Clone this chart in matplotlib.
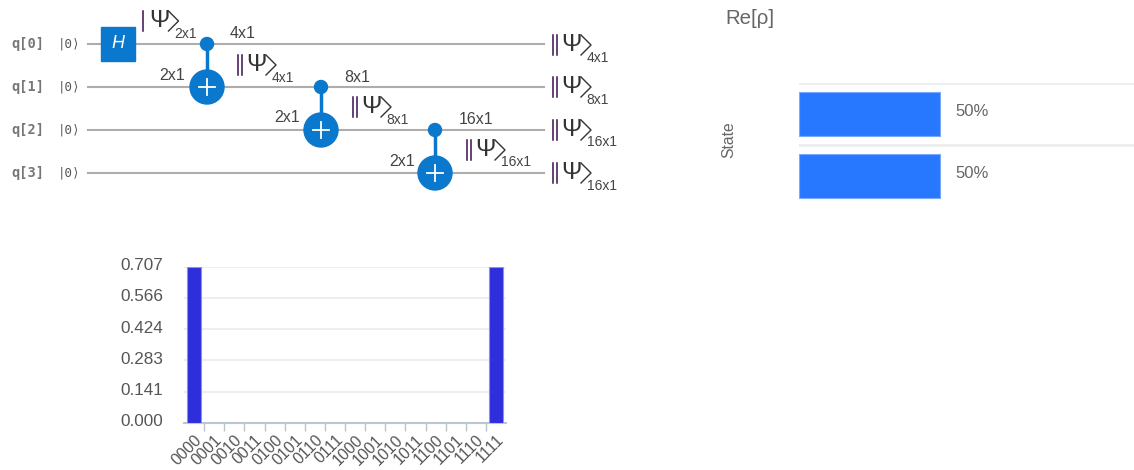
import matplotlib
matplotlib.use("Agg")
import matplotlib.pyplot as plt
from matplotlib.patches import Circle, Rectangle
from matplotlib.transforms import ScaledTranslation

W, H = 1134, 470
plt.rcParams['font.family'] = ['Liberation Sans', 'DejaVu Sans']

# amplitude chart
states = ['0000', '0001', '0010', '0011', '0100', '0101', '0110', '0111',
          '1000', '1001', '1010', '1011', '1100', '1101', '1110', '1111']
amplitudes = [0.707, 0, 0, 0, 0, 0, 0, 0, 0, 0, 0, 0, 0, 0, 0, 0.707]
amp_ticks = [0.000, 0.141, 0.283, 0.424, 0.566, 0.707]

# Re[rho] chart
rho_rows = [0, 1]
rho_values = [50, 50]

# circuit
qubits = ['q[0]', 'q[1]', 'q[2]', 'q[3]']
cnot_gates = [(0, 1), (1, 2), (2, 3)]
wire_y = [44, 87, 130, 173]
cnot_x = [207, 321, 435]
# x, y, bars, subscript
kets = [(142, 21, 1, '2x1'), (237, 65, 2, '4x1'), (352, 107, 2, '8x1'), (466, 150, 2, '16x1'),
        (552, 45, 2, '4x1'), (552, 87, 2, '8x1'), (552, 130, 2, '16x1'), (552, 173, 2, '16x1')]
size_labels = [(243, 34, '4x1'), (172, 76, '2x1'), (287, 118, '2x1'),
               (357, 77, '8x1'), (476, 119, '16x1'), (402, 161, '2x1')]

GATE = '#0a78cc'
TEXT = '#444444'


def px_axes(fig, left, top, right, bottom):
    return fig.add_axes([left / W, 1 - bottom / H, (right - left) / W, (bottom - top) / H])


def draw_ket(ax, x, y, bars, sub):
    for i in range(bars):
        ax.plot([x + 1 + i * 3.5] * 2, [y - 10, y + 10], color='#3a1050', lw=1.1)
    px = x + (7 if bars == 1 else 9.5)
    ax.text(px, y, 'Ψ', color='#333333', fontsize=17.5, ha='left', va='center')
    cx = px + 19.5
    ax.plot([cx, cx + 10, cx], [y - 10, y, y + 10], color='#333333', lw=1.0)
    ax.text(cx + 5.5, y + 12.5, sub, color=TEXT, fontsize=10, ha='left', va='center')


fig = plt.figure(figsize=(W / 100, H / 100), dpi=100, facecolor='white')

# amplitude bars
ax_amp = px_axes(fig, 184, 266.7, 506, 423)
ax_amp.bar(range(len(states)), amplitudes, width=0.7, color='#2e2edc', edgecolor='#8f8fe8', linewidth=0.8, zorder=3)
ax_amp.set_xlim(-0.5, 15.5)
ax_amp.set_ylim(0, 0.707)
ax_amp.set_yticks(amp_ticks)
ax_amp.set_yticklabels([f'{t:.3f}' for t in amp_ticks], fontsize=12.3, color='#555555')
ax_amp.set_xticks(range(len(states)))
ax_amp.set_xticklabels(states, fontsize=11.5, color='#555555', rotation=45, ha='right', rotation_mode='anchor')
ax_amp.set_xticks([i + 0.5 for i in range(15)], minor=True)
ax_amp.tick_params(axis='x', which='major', length=0, pad=6.5)
ax_amp.tick_params(axis='x', which='minor', length=6, width=1, color='#b8c4cc')
ax_amp.tick_params(axis='y', length=0, pad=15)
ax_amp.grid(axis='y', color='#eeeeee', lw=1.5, zorder=0)
ax_amp.set_axisbelow(True)
# the value labels sit a little above their grid lines
for label in ax_amp.get_yticklabels():
    label.set_transform(label.get_transform() + ScaledTranslation(0, 2.5 / 100, fig.dpi_scale_trans))
for side in ['top', 'left', 'right']:
    ax_amp.spines[side].set_visible(False)
ax_amp.spines['bottom'].set_color('#bcc8d0')
ax_amp.spines['bottom'].set_linewidth(1.5)

# Re[rho] bars
ax_rho = px_axes(fig, 799, 83, 1134, 207)
bars = ax_rho.barh(rho_rows, rho_values, height=0.71, color='#2878ff', edgecolor='#78a8ff', linewidth=0.8, zorder=3)
labels = ax_rho.bar_label(bars, labels=[f'{v}%' for v in rho_values], padding=11, fontsize=12, color='#666666')
for label in labels:
    label.xyann = (11, 2)
ax_rho.set_ylim(1.5, -0.5)
ax_rho.set_xlim(0, 118.5)
ax_rho.set_xticks([])
ax_rho.set_yticks([-0.5, 0.5])
ax_rho.set_yticklabels([])
ax_rho.tick_params(axis='y', length=0)
ax_rho.grid(axis='y', color='#eeeeee', lw=2, zorder=0)
for spine in ax_rho.spines.values():
    spine.set_visible(False)

# circuit and loose labels, drawn in pixel coordinates
ax = fig.add_axes([0, 0, 1, 1])
ax.set_xlim(0, W)
ax.set_ylim(H, 0)
ax.axis('off')
ax.patch.set_alpha(0)

for name, y in zip(qubits, wire_y):
    ax.plot([88, 544], [y, y], color='#adadad', lw=1.5, zorder=1)
    ax.text(11, y, name, family='DejaVu Sans Mono', weight='bold', fontsize=9.8, color='#777777', ha='left', va='center')
    ax.text(58, y, '|0⟩', family='DejaVu Sans Mono', fontsize=9, color='#555555', ha='left', va='center')

ax.add_patch(Rectangle((101, 27), 34, 34, color=GATE, zorder=2))
ax.text(118, wire_y[0], 'H', color='white', fontsize=13, style='italic', ha='center', va='center', zorder=3)

for x, (ctrl, target) in zip(cnot_x, cnot_gates):
    ax.plot([x, x], [wire_y[ctrl], wire_y[target]], color=GATE, lw=2.5, zorder=2)
    ax.add_patch(Circle((x, wire_y[ctrl]), 6.5, color=GATE, zorder=3))
    ax.add_patch(Circle((x, wire_y[target]), 17, color=GATE, zorder=3))
    ax.plot([x - 8, x + 8], [wire_y[target]] * 2, color='white', lw=1.3, zorder=4)
    ax.plot([x, x], [wire_y[target] - 8, wire_y[target] + 8], color='white', lw=1.3, zorder=4)

for ket in kets:
    draw_ket(ax, *ket)
for x, y, label in size_labels:
    ax.text(x, y, label, color=TEXT, fontsize=11.5, ha='center', va='center')

ax.text(725, 18, 'Re[ρ]', color='#666666', fontsize=14.7, ha='left', va='center')
ax.text(729, 140, 'State', color='#666666', fontsize=11.3, rotation=90, ha='center', va='center')

fig.savefig('out.png', dpi=100)
plt.close(fig)
